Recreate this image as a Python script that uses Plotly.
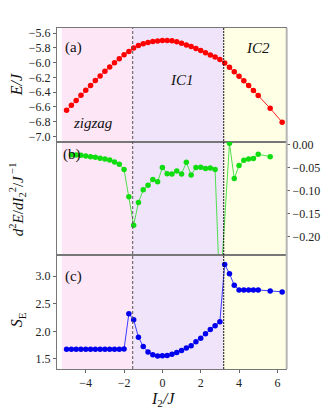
import plotly.graph_objects as go
from plotly.subplots import make_subplots

# ---------------- data ----------------
x_a = [-5.0, -4.75, -4.5, -4.25, -4.0, -3.75, -3.5, -3.25, -3.0, -2.75, -2.5, -2.25, -2.0, -1.75, -1.5,
       -1.25, -1.0, -0.75, -0.5, -0.25, 0.0, 0.25, 0.5, 0.75, 1.0, 1.25, 1.5, 1.75, 2.0, 2.25, 2.5, 2.75, 3.0,
       3.25, 3.5, 3.75, 4.0, 4.25, 4.5, 4.75, 5.0, 5.625, 6.25]
energy = [-6.646, -6.578, -6.511, -6.440, -6.373, -6.309, -6.242, -6.179, -6.117, -6.058, -6.000, -5.946, -5.892, -5.848, -5.802,
          -5.767, -5.744, -5.726, -5.713, -5.704, -5.699, -5.698, -5.703, -5.717, -5.735, -5.758, -5.780, -5.807, -5.834, -5.865, -5.896, -5.923, -5.955,
          -6.004, -6.063, -6.121, -6.184, -6.246, -6.309, -6.377, -6.444, -6.619, -6.807]
entropy = [1.677, 1.677, 1.677, 1.677, 1.677, 1.677, 1.677, 1.677, 1.677, 1.677, 1.677, 1.677, 1.680, 2.32, 2.21,
           1.895, 1.724, 1.628, 1.578, 1.553, 1.558, 1.562, 1.585, 1.615, 1.651, 1.700, 1.737, 1.810, 1.877, 1.956, 2.034, 2.100, 2.174,
           3.213, 3.044, 2.836, 2.750, 2.750, 2.750, 2.750, 2.750, 2.733, 2.715]

x_b = [-4.75, -4.5, -4.25, -4.0, -3.75, -3.5, -3.25, -3.0, -2.75, -2.5, -2.25, -2.0, -1.75, -1.5,
       -1.25, -1.0, -0.75, -0.5, -0.25, 0.0, 0.25, 0.5, 0.75, 1.0, 1.25, 1.5, 1.75, 2.0, 2.25, 2.5, 2.75, 3.0,
       3.5, 3.75, 4.0, 4.25, 4.5, 4.75, 5.0, 5.625]
d2e = [-0.0217, -0.0223, -0.0232, -0.0245, -0.0260, -0.0275, -0.0297, -0.0310, -0.0332, -0.0375, -0.0427, -0.0542, -0.1133, -0.1749,
       -0.1257, -0.0982, -0.0882, -0.0758, -0.0808, -0.0498, -0.0630, -0.0640, -0.0570, -0.0635, -0.0383, -0.0657, -0.0498, -0.0490, -0.0520, -0.0505, -0.0542, -0.33,
       0.003, -0.0737, -0.0455, -0.0340, -0.0310, -0.0303, -0.0210, -0.0260]

phase_bounds = [-5.25, -1.55, 3.2, 6.6]
phase_colors = ["#fde6f6", "#f0e4fa", "#ffffe6"]
phase_names = ["<i>zigzag</i>", "<i>IC1</i>", "<i>IC2</i>"]
phase_label_pos = [(-3.6, -6.82), (1.0, -6.23), (5.0, -5.80)]

x_ticks = [-4, -2, 0, 2, 4, 6]
ya_ticks = [-5.6, -5.8, -6.0, -6.2, -6.4, -6.6, -6.8, -7.0]
yb_ticks = [0.0, -0.05, -0.10, -0.15, -0.20]
yc_ticks = [1.5, 2.0, 2.5, 3.0]

FONT = "Liberation Serif"

fig = make_subplots(rows=3, cols=1, shared_xaxes=True, vertical_spacing=0)

fig.add_trace(go.Scatter(x=x_a, y=energy, mode="lines+markers",
                         line=dict(color="#ff2020", width=1),
                         marker=dict(color="#ff0000", size=5.5)), row=1, col=1)
fig.add_trace(go.Scatter(x=x_b, y=d2e, mode="lines+markers",
                         line=dict(color="#4ee04e", width=1),
                         marker=dict(color="#10dd10", size=5.5)), row=2, col=1)
fig.add_trace(go.Scatter(x=x_a, y=entropy, mode="lines+markers",
                         line=dict(color="#3c3cff", width=1),
                         marker=dict(color="#0000ee", size=5.5)), row=3, col=1)

shapes = []
for i, c in enumerate(phase_colors):
    shapes.append(dict(type="rect", xref="x", yref="paper", x0=phase_bounds[i], x1=phase_bounds[i + 1],
                       y0=0, y1=1, fillcolor=c, line=dict(width=0), layer="below"))
shapes.append(dict(type="line", xref="x", yref="paper", x0=phase_bounds[1], x1=phase_bounds[1], y0=0, y1=1,
                   line=dict(color="#555555", width=1, dash="3px,2px")))
shapes.append(dict(type="line", xref="x", yref="paper", x0=phase_bounds[2], x1=phase_bounds[2], y0=0, y1=1,
                   line=dict(color="#111111", width=1, dash="2px,1px")))
shapes.append(dict(type="line", xref="paper", yref="paper", x0=1.003, x1=1.003, y0=0, y1=1,
                   line=dict(color="#b5b5b5", width=2)))

annotations = []
for name, (xx, yy) in zip(phase_names, phase_label_pos):
    annotations.append(dict(x=xx, y=yy, xref="x", yref="y", text=name, showarrow=False,
                            font=dict(family=FONT, size=15, color="#111")))
for lab, yr, yy, xx in [("(a)", "y", -5.80, -4.62), ("(b)", "y2", -0.022, -4.72), ("(c)", "y3", 3.0, -4.62)]:
    annotations.append(dict(x=xx, y=yy, xref="x", yref=yr, text=lab, showarrow=False,
                            font=dict(family=FONT, size=15, color="#111")))
# axis titles (placed in pixel-derived paper coords)
title_x = (16 - 57) / 236
annotations.append(dict(x=title_x, y=(369 - 85) / 341, xref="paper", yref="paper", text="<i>E/J</i>",
                        textangle=-90, showarrow=False, xanchor="center", yanchor="middle",
                        font=dict(family=FONT, size=16, color="#111")))
annotations.append(dict(x=title_x, y=(369 - 199) / 341, xref="paper", yref="paper",
                        text="<i>d</i><sup>2</sup><i>E</i>/<i>dI</i><sub>2</sub><sup>2</sup>/<i>J</i><sup> −1</sup>",
                        textangle=-90, showarrow=False, xanchor="center", yanchor="middle",
                        font=dict(family=FONT, size=15, color="#111")))
annotations.append(dict(x=title_x, y=(369 - 320) / 341, xref="paper", yref="paper",
                        text="<i>S</i><sub>E</sub>",
                        textangle=-90, showarrow=False, xanchor="center", yanchor="middle",
                        font=dict(family=FONT, size=16, color="#111")))
annotations.append(dict(x=(166 - 57) / 236, y=-(399 - 369) / 341, xref="paper", yref="paper",
                        text="<i>I</i><sub>2</sub><i>/J</i>", showarrow=False,
                        xanchor="center", yanchor="middle",
                        font=dict(family=FONT, size=16, color="#111")))

axis_common = dict(showline=True, linecolor="#777777", linewidth=1, mirror=True, showgrid=False,
                   zeroline=False, ticks="outside", ticklen=3, tickcolor="#666666",
                   tickfont=dict(family=FONT, size=12, color="#222"))

fig.update_xaxes(range=[-5.5, 6.45], **axis_common)
fig.update_xaxes(ticks="", showticklabels=False, row=1, col=1)
fig.update_xaxes(ticks="", showticklabels=False, row=2, col=1)
fig.update_xaxes(tickvals=x_ticks, ticktext=[("−" + str(abs(v))) if v < 0 else str(v) for v in x_ticks],
                 row=3, col=1)

fig.update_yaxes(**axis_common)
fig.update_yaxes(range=[-7.071, -5.529], tickvals=ya_ticks, tickformat=".1f", row=1, col=1)
fig.update_yaxes(range=[-0.2405, 0.0065], tickvals=yb_ticks, tickformat=".2f", side="right", row=2, col=1)
fig.update_yaxes(range=[1.318, 3.377], tickvals=yc_ticks, tickformat=".1f", row=3, col=1)

fig.update_layout(width=332, height=419, margin=dict(l=57, r=39, t=28, b=50),
                  paper_bgcolor="white", plot_bgcolor="white", showlegend=False,
                  shapes=shapes, annotations=annotations,
                  font=dict(family=FONT))

fig.write_html("out.html", config={"displayModeBar": False},
               post_script="document.body.style.margin='0';document.body.style.overflow='hidden';")
